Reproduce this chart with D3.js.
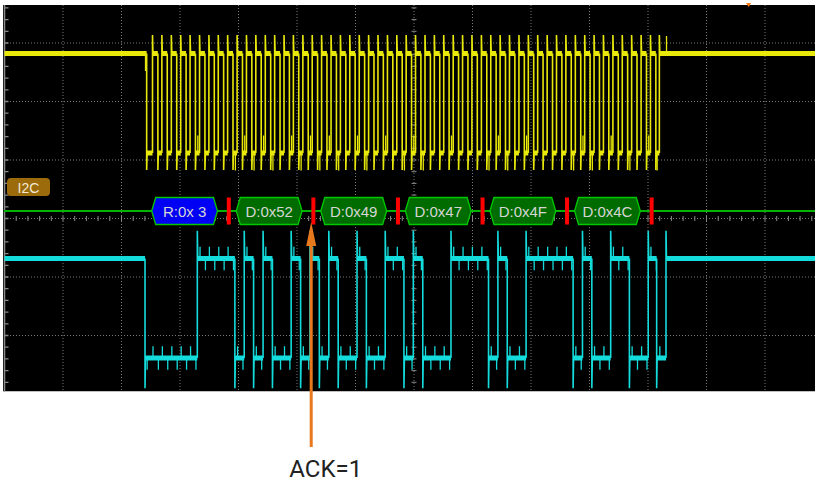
<!DOCTYPE html>
<html>
<head>
<meta charset="utf-8">
<script src="https://cdn.jsdelivr.net/npm/d3@7"></script>
<style>
body { margin: 0; background: #fff; }
</style>
</head>
<body>
<svg width="815" height="483"></svg>
<script>
// decoded I2C frames shown on the bus line
const frameLabels = ["R:0x 3", "D:0x52", "D:0x49", "D:0x47", "D:0x4F", "D:0x4C"]
const frameKinds = ["addr", "data", "data", "data", "data", "data"]

// SDA level at every clock: 8 bits + ack bit per frame
const sdaBits = [
  0,0,0,0,0,1,1,1, 1,
  0,1,0,1,0,0,1,0, 1,
  0,1,0,0,1,0,0,1, 1,
  0,1,0,0,0,1,1,1, 1,
  0,1,0,0,1,1,1,1, 1,
  0,1,0,0,1,1,0,0, 1
]

// SCL rising edges in us (yellow trace), last one belongs to the stop condition
const sclRise = [
  -223.5, -215.5, -207.4, -199.4, -191.4, -183.3, -175.3, -167.3, -159.3,
  -151.2, -143.2, -135.2, -127.1, -119.1, -111.1, -103.1, -95.0, -87.0,
  -79.0, -70.9, -62.9, -54.9, -46.8, -38.8, -30.8, -22.7, -14.7,
  -6.7, 1.3, 9.4, 17.4, 25.4, 33.5, 41.5, 49.5, 57.6,
  65.6, 73.6, 81.6, 89.7, 97.7, 105.7, 113.8, 121.8, 129.8,
  137.9, 145.9, 153.9, 161.9, 170.0, 178.0, 186.0, 194.1, 202.1,
  209.7
]
const sclHigh = 4.6      // us the clock stays high
const sdaSetup = 1.9     // us SDA changes before the clock rises
const startTimes = { sdaFall: -229.9, sclFall: -228.5 }
const stopTimes = { sdaFall: 207.4, sdaRise: 215.4 }
const triggerTime = 286
const ackNote = { frame: 1, text: "ACK=1" }

// channel settings (volts, divisions)
const ch1 = { color: "#e8e80a", offset: 1.12, vPerDiv: 2, high: 3.4, low: 0, over: 0.63, under: 0.58, xtalk: 0.6 }
const ch2 = { color: "#14dcdc", offset: -2.385, vPerDiv: 2, high: 3.4, low: 0, over: 0.95, under: 1.03, xtalk: 0.4 }
const busDiv = 0.128

let svg = d3.select("svg")
let W = 815, H = 483

let x = d3.scaleLinear().domain([-350, 350]).range([4.5, 823.5])
let y = d3.scaleLinear().domain([-4, 4]).range([452.5, -15.5])

svg.append("rect").attr("width", W).attr("height", H).attr("fill", "#fff")

svg.append("defs").append("clipPath").attr("id", "scr")
  .append("rect").attr("x", 3).attr("y", 5).attr("width", 812).attr("height", 386.5)

let scr = svg.append("g").attr("clip-path", "url(#scr)")
scr.append("rect").attr("x", 3).attr("y", 5).attr("width", 812).attr("height", 386.5).attr("fill", "#000")

// grid
let g = scr.append("g")
d3.range(1, 14).forEach(i => {
  g.append("line")
    .attr("x1", x(-350 + 50 * i)).attr("x2", x(-350 + 50 * i))
    .attr("y1", 5).attr("y2", 392)
    .attr("stroke", "#7a7a7a").attr("stroke-dasharray", "1,2")
})
d3.range(-3, 4).forEach(d => {
  g.append("line")
    .attr("x1", 4).attr("x2", 815)
    .attr("y1", y(d)).attr("y2", y(d))
    .attr("stroke", "#7a7a7a").attr("stroke-dasharray", "1,2")
})
// minor ticks on center axes and left border
d3.range(-350, 351, 10).forEach(t => {
  g.append("line").attr("x1", x(t)).attr("x2", x(t))
    .attr("y1", y(0) - 2.5).attr("y2", y(0) + 2.5)
    .attr("stroke", "#8a8a8a")
})
d3.range(-4, 4.01, 0.2).forEach(d => {
  g.append("line").attr("x1", x(0) - 2.5).attr("x2", x(0) + 2.5)
    .attr("y1", y(d)).attr("y2", y(d))
    .attr("stroke", "#8a8a8a")
  g.append("line").attr("x1", 4.5).attr("x2", 8.5)
    .attr("y1", y(d)).attr("y2", y(d))
    .attr("stroke", "#8a8a8a").attr("stroke-width", 1.3)
})
g.append("line").attr("x1", 4.5).attr("x2", 4.5).attr("y1", 5).attr("y2", 392)
  .attr("stroke", "#8a8a8a").attr("stroke-width", 1.5)

// edges of both lines
let sclEdges = [{ t: startTimes.sclFall, up: false }]
sclRise.forEach((r, i) => {
  sclEdges.push({ t: r, up: true })
  if (i < sclRise.length - 1) sclEdges.push({ t: r + sclHigh, up: false })
})

let sdaEdges = [{ t: startTimes.sdaFall, up: false }]
let lvl = 0
sdaBits.forEach((b, k) => {
  if (b != lvl) { sdaEdges.push({ t: sclRise[k] - sdaSetup, up: b == 1 }); lvl = b }
})
sdaEdges.push({ t: stopTimes.sdaFall, up: false })
sdaEdges.push({ t: stopTimes.sdaRise, up: true })

let drawTrace = (ch, edges, other) => {
  let vy = v => y(ch.offset + v / ch.vPerDiv)
  let levelAt = t => {
    let up = true
    edges.forEach(e => { if (e.t <= t) up = e.up })
    return up ? ch.high : ch.low
  }
  let tg = scr.append("g")

  // flat parts, drawn thick like the noisy scope trace
  let bounds = [-350, ...edges.map(e => e.t), 350]
  let flats = d3.range(bounds.length - 1).map(i => ({
    a: bounds[i], b: bounds[i + 1],
    v: (i == 0 || edges[i - 1].up) ? ch.high : ch.low
  }))
  tg.selectAll("line.flat")
    .data(flats)
    .join("line")
    .attr("class", "flat")
    .attr("x1", d => x(d.a)).attr("x2", d => x(d.b))
    .attr("y1", d => vy(d.v)).attr("y2", d => vy(d.v))
    .attr("stroke", ch.color).attr("stroke-width", 5)

  // edges with overshoot
  let p = d3.path()
  let prev = ch.high
  edges.forEach(e => {
    let nv = e.up ? ch.high : ch.low
    let spike = e.up ? ch.high + ch.over : ch.low - ch.under
    p.moveTo(x(e.t), vy(prev))
    p.lineTo(x(e.t), vy(spike))
    p.lineTo(x(e.t + 0.4), vy(nv))
    prev = nv
  })
  tg.append("path").attr("d", p.toString())
    .attr("fill", "none").attr("stroke", ch.color).attr("stroke-width", 1.6)

  // crosstalk from the other line
  tg.selectAll("line.xt")
    .data(other.filter(e => e.t > -350 && e.t < 350))
    .join("line")
    .attr("class", "xt")
    .attr("x1", d => x(d.t) + 0.5).attr("x2", d => x(d.t) + 0.5)
    .attr("y1", d => vy(levelAt(d.t)))
    .attr("y2", d => vy(levelAt(d.t) + (d.up ? ch.xtalk : -ch.xtalk)))
    .attr("stroke", ch.color).attr("stroke-width", 1.3)
}

drawTrace(ch1, sclEdges, sdaEdges)
drawTrace(ch2, sdaEdges, sclEdges)

// bus decode line
let busY = y(busDiv)
scr.append("line").attr("x1", 4).attr("x2", 815).attr("y1", busY).attr("y2", busY)
  .attr("stroke", "#00b400").attr("stroke-width", 2)

let frames = frameLabels.map((lab, f) => ({
  label: lab, kind: frameKinds[f],
  t0: sclRise[9 * f], t1: sclRise[9 * f + 7], ack: sclRise[9 * f + 8]
}))

let bh = 13.5
let hex = d => {
  let x0 = x(d.t0) - 0.8, x1 = x(d.t1) - 0.8
  return [[x0, busY], [x0 + 4, busY - bh], [x1 - 4, busY - bh], [x1, busY], [x1 - 4, busY + bh], [x0 + 4, busY + bh]]
    .map(q => q.join(",")).join(" ")
}
scr.selectAll("polygon.frame")
  .data(frames)
  .join("polygon")
  .attr("class", "frame")
  .attr("points", hex)
  .attr("fill", d => d.kind == "addr" ? "#0000f4" : "#006c00")
  .attr("stroke", "#00c800").attr("stroke-width", 1.3)

scr.selectAll("text.frame")
  .data(frames)
  .join("text")
  .attr("class", "frame")
  .attr("x", d => (x(d.t0) + x(d.t1)) / 2 - 0.8)
  .attr("y", busY + 5.5)
  .attr("text-anchor", "middle")
  .attr("font-family", "Liberation Sans, Arial, sans-serif")
  .attr("font-size", "15px")
  .attr("fill", "#d6d6d6")
  .text(d => d.label)

scr.selectAll("rect.ack")
  .data(frames)
  .join("rect")
  .attr("class", "ack")
  .attr("x", d => x(d.ack + 1) - 2)
  .attr("y", busY - bh)
  .attr("width", 4)
  .attr("height", 2 * bh)
  .attr("fill", "#ff0000")

// channel label
scr.append("rect").attr("x", 7).attr("y", 178).attr("width", 43).attr("height", 18).attr("rx", 4)
  .attr("fill", "#9c6b0c")
scr.append("text").attr("x", 28.5).attr("y", 192.5)
  .attr("text-anchor", "middle")
  .attr("font-family", "Liberation Sans, Arial, sans-serif")
  .attr("font-size", "14px")
  .attr("fill", "#f4ead4")
  .text("I2C")

// trigger position marker
let tx = x(triggerTime)
svg.append("polygon")
  .attr("points", [[tx - 2.5, 3], [tx + 2.5, 3], [tx, 7]].map(q => q.join(",")).join(" "))
  .attr("fill", "#ff7a10")

// annotation arrow
let ax = x(sclRise[9 * ackNote.frame + 8]) - 1
svg.append("line").attr("x1", ax).attr("x2", ax).attr("y1", 447).attr("y2", 240)
  .attr("stroke", "#e8781e").attr("stroke-width", 3)
svg.append("polygon")
  .attr("points", [[ax, 222], [ax + 5, 246], [ax - 5, 246]].map(q => q.join(",")).join(" "))
  .attr("fill", "#e8781e")
svg.append("text").attr("x", ax + 14.5).attr("y", 477)
  .attr("text-anchor", "middle")
  .attr("font-family", "Roboto, sans-serif")
  .attr("font-size", "24px")
  .attr("fill", "#222")
  .text(ackNote.text)
</script>
</body>
</html>
